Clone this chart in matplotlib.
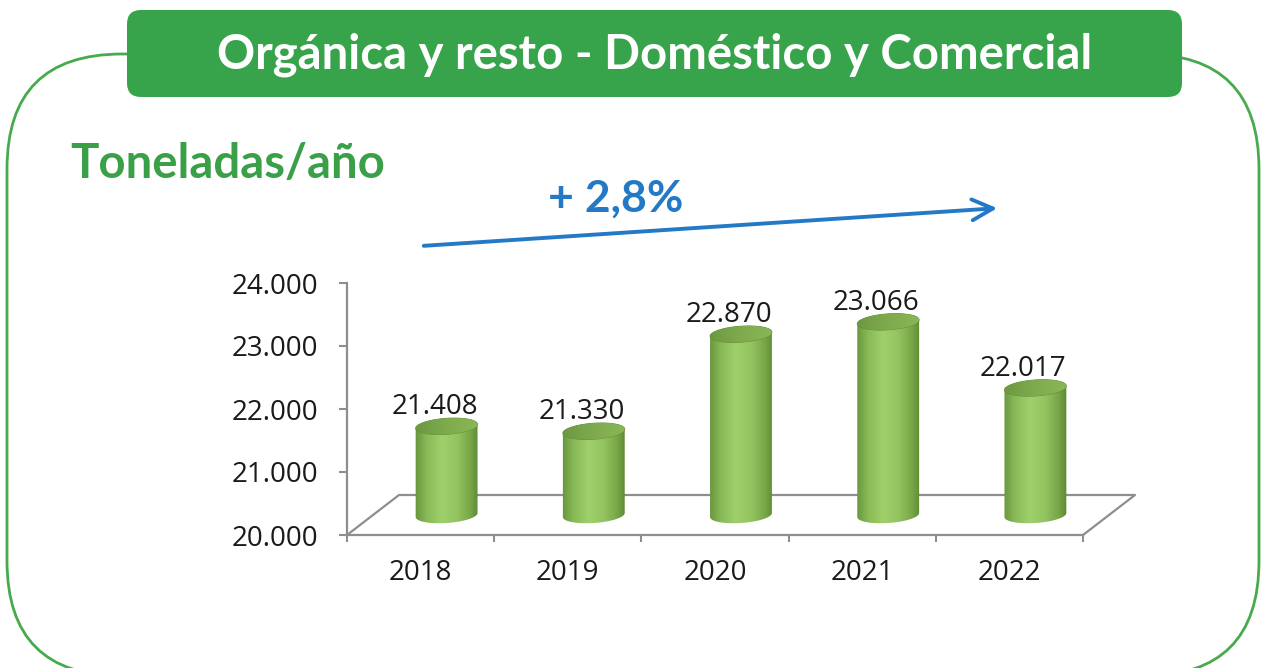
import numpy as np
import matplotlib
matplotlib.use("Agg")
import matplotlib.pyplot as plt
from matplotlib.patches import FancyBboxPatch, Polygon
from matplotlib.colors import LinearSegmentedColormap

# data
years = ["2018", "2019", "2020", "2021", "2022"]
tons = [21408, 21330, 22870, 23066, 22017]
y_ticks = [20000, 21000, 22000, 23000, 24000]
title = "Orgánica y resto - Doméstico y Comercial"
unit_label = "Toneladas/año"
growth_label = "+ 2,8%"

W, H = 1261, 668
GREEN = "#37a34a"
BLUE = "#2479c6"
GRAY = "#8e8e8e"

plt.rcParams["font.family"] = ["Open Sans", "DejaVu Sans"]


def fmt(v):
    return f"{v:,}".replace(",", ".")


def fy(y):
    # pixel row (from top) -> bg axes y
    return H - y


fig = plt.figure(figsize=(W / 100, H / 100), dpi=100)

# background layer in pixel coords
bg = fig.add_axes([0, 0, 1, 1])
bg.set_xlim(0, W)
bg.set_ylim(0, H)
bg.axis("off")
bg.add_patch(FancyBboxPatch((7, fy(676)), 1252, 622, boxstyle="round,pad=0,rounding_size=115",
                            fc="none", ec="#48aa4e", lw=2))
bg.add_patch(FancyBboxPatch((127, fy(97)), 1055, 87, boxstyle="round,pad=0,rounding_size=14",
                            fc=GREEN, ec="none"))
bg.text(655, fy(55), title, color="white", fontsize=34, fontweight="bold", family="Lato",
        ha="center", va="center")
bg.text(70, fy(178), unit_label, color="#3aa048", fontsize=34, fontweight="bold", family="Lato",
        ha="left", va="baseline")
bg.text(548, fy(212), growth_label, color=BLUE, fontsize=32, fontweight="bold", family="Lato",
        ha="left", va="baseline")
bg.annotate("", xy=(1000, fy(208)), xytext=(421, fy(246)),
            arrowprops=dict(arrowstyle="->,head_length=1.5,head_width=0.75", color=BLUE, lw=2.8))

# chart axes
ax_l, ax_b, ax_w, ax_h = 347, 535, 736, 252
ax = fig.add_axes([ax_l / W, (H - ax_b) / H, ax_w / W, ax_h / H])
ax.patch.set_alpha(0)
n = len(years)
y0, y1 = y_ticks[0], y_ticks[-1]
px_x = ax_w / n
px_y = ax_h / (y1 - y0)

# fake 3D floor
ddx, ddy = 52 / px_x, 40 / px_y
ax.plot([0, ddx, n + ddx, n], [y0, y0 + ddy, y0 + ddy, y0], color=GRAY, lw=1.6,
        clip_on=False, zorder=1)

body_cmap = LinearSegmentedColormap.from_list(
    "body", [(0, "#62903a"), (0.18, "#86b855"), (0.42, "#a0d06c"), (0.65, "#94c460"),
             (0.85, "#78a748"), (1, "#5a8430")])
top_cmap = LinearSegmentedColormap.from_list("top", ["#6c9742", "#7fab4e", "#8ab757"])

a, b, tilt = 31, 8, np.deg2rad(4)


def ell(cx, cy, t):
    ex = a * np.cos(t) * np.cos(tilt) - b * np.sin(t) * np.sin(tilt)
    ey = a * np.cos(t) * np.sin(tilt) + b * np.sin(t) * np.cos(tilt)
    return cx + ex / px_x, cy + ey / px_y


grad = np.linspace(0, 1, 256).reshape(1, -1)
for i, v in enumerate(tons):
    cx = i + 0.5 + ddx / 2
    base = y0 + ddy / 2
    top = v + ddy / 2
    lo = np.linspace(np.pi, 2 * np.pi, 60)
    hi = np.linspace(0, np.pi, 60)
    bx, by = ell(cx, base, lo)
    tx, ty = ell(cx, top, hi)
    body = Polygon(np.column_stack([np.r_[bx, tx], np.r_[by, ty]]), closed=True,
                   fc="none", ec="none", zorder=3)
    ax.add_patch(body)
    ext = [cx - (a + 2) / px_x, cx + (a + 2) / px_x, base - (b + 4) / px_y, top + (b + 4) / px_y]
    im = ax.imshow(grad, extent=ext, cmap=body_cmap, aspect="auto", origin="lower", zorder=3)
    im.set_clip_path(body)

    fx, fyy = ell(cx, top, np.linspace(0, 2 * np.pi, 120))
    cap = Polygon(np.column_stack([fx, fyy]), closed=True, fc="none", ec="#5f8a36",
                  lw=0.6, zorder=4)
    ax.add_patch(cap)
    im2 = ax.imshow(grad, extent=ext, cmap=top_cmap, aspect="auto", origin="lower", zorder=4)
    im2.set_clip_path(cap)

    ax.annotate(fmt(v), xy=(i + 0.5, v), xytext=(10, 23), textcoords="offset points",
                ha="center", va="baseline", fontsize=20, color="#1a1a1a")

ax.set_xlim(0, n)
ax.set_ylim(y0, y1)
ax.set_yticks(y_ticks, [fmt(t) for t in y_ticks])
ax.set_xticks(range(n + 1), [""] * (n + 1))
ax.set_xticks(np.arange(n) + 0.5, years, minor=True)
ax.tick_params(axis="y", direction="out", length=6, width=1.5, color=GRAY, pad=15,
               labelsize=20, labelcolor="#1a1a1a")
ax.tick_params(axis="x", which="major", direction="out", length=5, width=1.5, color=GRAY)
ax.tick_params(axis="x", which="minor", length=0, pad=17, labelsize=20, labelcolor="#1a1a1a")
for s in ["top", "right"]:
    ax.spines[s].set_visible(False)
for s in ["left", "bottom"]:
    ax.spines[s].set_color(GRAY)
    ax.spines[s].set_linewidth(1.6)

fig.savefig("out.png", dpi=100)
